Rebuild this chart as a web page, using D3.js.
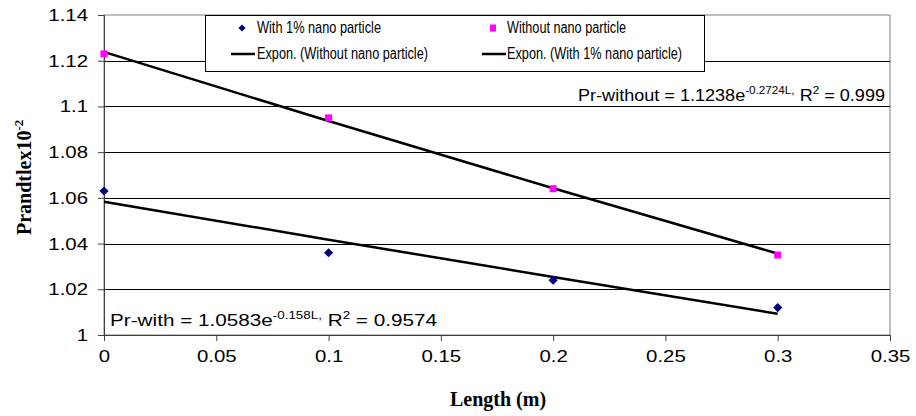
<!DOCTYPE html>
<html>
<head>
<meta charset="utf-8">
<script src="https://cdn.jsdelivr.net/npm/d3@7"></script>
<style>
  body { margin: 0; background: #fff; }
  svg { display: block; }
  text { font-family: "Liberation Sans", Arial, sans-serif; fill: #000; }
  .title { font-family: "Liberation Serif", "Times New Roman", serif; font-weight: bold; }
</style>
</head>
<body>
<div id="wrapper"></div>
<script>
// values
const lengths = [0, 0.1, 0.2, 0.3];
const prWith = [1.063, 1.036, 1.024, 1.012];
const prWithout = [1.123, 1.095, 1.064, 1.035];
// trendline points (Expon. fit as drawn)
const fitWith = [1.0583, 1.0417, 1.0254, 1.0093];
const fitWithout = [1.1238, 1.0936, 1.0642, 1.0356];
const xTicks = [0, 0.05, 0.1, 0.15, 0.2, 0.25, 0.3, 0.35];
const yTicks = [1, 1.02, 1.04, 1.06, 1.08, 1.1, 1.12, 1.14];
const legendLabels = ["With 1% nano particle", "Without nano particle",
                      "Expon. (Without nano particle)", "Expon. (With 1% nano particle)"];

function drawChart() {
    let dimensions = {
        width: 916,
        height: 416,
        margin: { top: 15, right: 26, bottom: 81, left: 104 },
    };
    dimensions.boundedWidth = dimensions.width - dimensions.margin.left - dimensions.margin.right;
    dimensions.boundedHeight = dimensions.height - dimensions.margin.top - dimensions.margin.bottom;

    const wrapper = d3.select("#wrapper")
        .append("svg")
        .attr("width", dimensions.width)
        .attr("height", dimensions.height);

    const bounds = wrapper.append("g")
        .attr("transform", `translate(${dimensions.margin.left},${dimensions.margin.top})`);

    const xScale = d3.scaleLinear()
        .domain([0, 0.35])
        .range([0, dimensions.boundedWidth]);
    const yScale = d3.scaleLinear()
        .domain([1, 1.14])
        .range([dimensions.boundedHeight, 0]);

    // stretch/squeeze text to the width seen in the picture
    const fit = (sel, w) => sel.attr("textLength", w).attr("lengthAdjust", "spacingAndGlyphs");
    const tickFormat = d => d3.format("~g")(+d.toFixed(2));

    // plot area border (grey)
    bounds.append("rect")
        .attr("x", 0).attr("y", 0)
        .attr("width", dimensions.boundedWidth)
        .attr("height", dimensions.boundedHeight)
        .attr("fill", "none")
        .attr("stroke", "#808080")
        .attr("stroke-width", 1);

    // gridlines
    bounds.append("g")
        .selectAll("line")
        .data(yTicks.filter(d => d > 1 && d < 1.14))
        .join("line")
        .attr("x1", 0)
        .attr("x2", dimensions.boundedWidth)
        .attr("y1", d => Math.round(yScale(d)) + 0.5)
        .attr("y2", d => Math.round(yScale(d)) + 0.5)
        .attr("stroke", "#000")
        .attr("stroke-width", 1);

    // axes
    const yAxisGenerator = d3.axisLeft(yScale)
        .tickValues(yTicks)
        .tickSize(6)
        .tickFormat(tickFormat);
    const yAxis = bounds.append("g").call(yAxisGenerator);
    yAxis.select(".domain").attr("stroke", "#404040");
    yAxis.selectAll(".tick line").attr("stroke", "#404040");
    // labels in the picture are wider than the font, so scale them horizontally
    yAxis.selectAll(".tick text")
        .attr("font-size", 17)
        .attr("x", 0)
        .attr("transform", "translate(-16,0) scale(1.2,1)")
        .style("font-family", "'Liberation Sans', Arial, sans-serif");

    const xAxisGenerator = d3.axisBottom(xScale)
        .tickValues(xTicks)
        .tickSize(6)
        .tickPadding(10)
        .tickFormat(tickFormat);
    const xAxis = bounds.append("g")
        .attr("transform", `translate(0,${dimensions.boundedHeight})`)
        .call(xAxisGenerator);
    xAxis.select(".domain").attr("stroke", "#404040");
    xAxis.selectAll(".tick line").attr("stroke", "#404040");
    xAxis.selectAll(".tick text")
        .attr("font-size", 17)
        .attr("y", 0)
        .attr("transform", "translate(0,15) scale(1.2,1)")
        .style("font-family", "'Liberation Sans', Arial, sans-serif");

    // trendlines
    const lineGenerator = d3.line()
        .x(d => xScale(d[0]))
        .y(d => yScale(d[1]))
        .curve(d3.curveMonotoneX);
    [fitWithout, fitWith].forEach(fitVals => {
        bounds.append("path")
            .attr("d", lineGenerator(d3.zip(lengths, fitVals)))
            .attr("fill", "none")
            .attr("stroke", "#000")
            .attr("stroke-width", 2.5);
    });

    // markers: diamond = square turned 45 degrees
    const diamond = d3.symbol().type(d3.symbolSquare).size(42);
    bounds.append("g")
        .selectAll("path")
        .data(d3.zip(lengths, prWith))
        .join("path")
        .attr("d", diamond)
        .attr("transform", d => `translate(${xScale(d[0])},${yScale(d[1])}) rotate(45)`)
        .attr("fill", "#000080");

    bounds.append("g")
        .selectAll("rect")
        .data(d3.zip(lengths, prWithout))
        .join("rect")
        .attr("x", d => xScale(d[0]) - 3.5)
        .attr("y", d => yScale(d[1]) - 3.5)
        .attr("width", 7)
        .attr("height", 7)
        .attr("fill", "#ff00ff");

    // equations
    const eqWithout = wrapper.append("text")
        .attr("x", 578).attr("y", 101)
        .attr("font-size", 17);
    eqWithout.append("tspan").text("Pr-without = 1.1238e");
    eqWithout.append("tspan").attr("dy", -7).attr("font-size", 11).text("-0.2724L,");
    eqWithout.append("tspan").attr("dy", 7).text(" R");
    eqWithout.append("tspan").attr("dy", -7).attr("font-size", 11).text("2");
    eqWithout.append("tspan").attr("dy", 7).text(" = 0.999");
    fit(eqWithout, 307);

    const eqWith = wrapper.append("text")
        .attr("x", 110).attr("y", 326)
        .attr("font-size", 17);
    eqWith.append("tspan").text("Pr-with = 1.0583e");
    eqWith.append("tspan").attr("dy", -7).attr("font-size", 11).text("-0.158L,");
    eqWith.append("tspan").attr("dy", 7).text(" R");
    eqWith.append("tspan").attr("dy", -7).attr("font-size", 11).text("2");
    eqWith.append("tspan").attr("dy", 7).text(" = 0.9574");
    fit(eqWith, 327);

    // legend
    const legend = wrapper.append("g");
    legend.append("rect")
        .attr("x", 205.5).attr("y", 15.5)
        .attr("width", 499).attr("height", 56)
        .attr("fill", "#fff")
        .attr("stroke", "#000")
        .attr("stroke-width", 1);

    legend.append("path")
        .attr("d", d3.symbol().type(d3.symbolSquare).size(26))
        .attr("transform", "translate(242,28) rotate(45)")
        .attr("fill", "#000080");
    legend.append("rect")
        .attr("x", 490).attr("y", 24.5).attr("width", 6).attr("height", 7)
        .attr("fill", "#ff00ff");
    legend.append("line")
        .attr("x1", 231).attr("x2", 255).attr("y1", 54).attr("y2", 54)
        .attr("stroke", "#000").attr("stroke-width", 2.5);
    legend.append("line")
        .attr("x1", 482).attr("x2", 506).attr("y1", 54).attr("y2", 54)
        .attr("stroke", "#000").attr("stroke-width", 2.5);

    const legendPos = [[257, 33, 124], [507, 33, 119], [257, 59, 171], [507, 59, 175]];
    legendLabels.forEach((label, i) => {
        const t = legend.append("text")
            .attr("x", legendPos[i][0])
            .attr("y", legendPos[i][1])
            .attr("font-size", 16)
            .text(label);
        fit(t, legendPos[i][2]);
    });

    // axis titles
    wrapper.append("text")
        .attr("class", "title")
        .attr("x", 498).attr("y", 406)
        .attr("text-anchor", "middle")
        .attr("font-size", 20)
        .text("Length (m)");

    const yTitle = wrapper.append("text")
        .attr("class", "title")
        .attr("transform", "translate(31,235) rotate(-90)")
        .attr("font-size", 20);
    yTitle.append("tspan").text("Prandtlex10");
    yTitle.append("tspan").attr("dy", -8).attr("font-size", 13).text("-2");
}

drawChart();
</script>
</body>
</html>
